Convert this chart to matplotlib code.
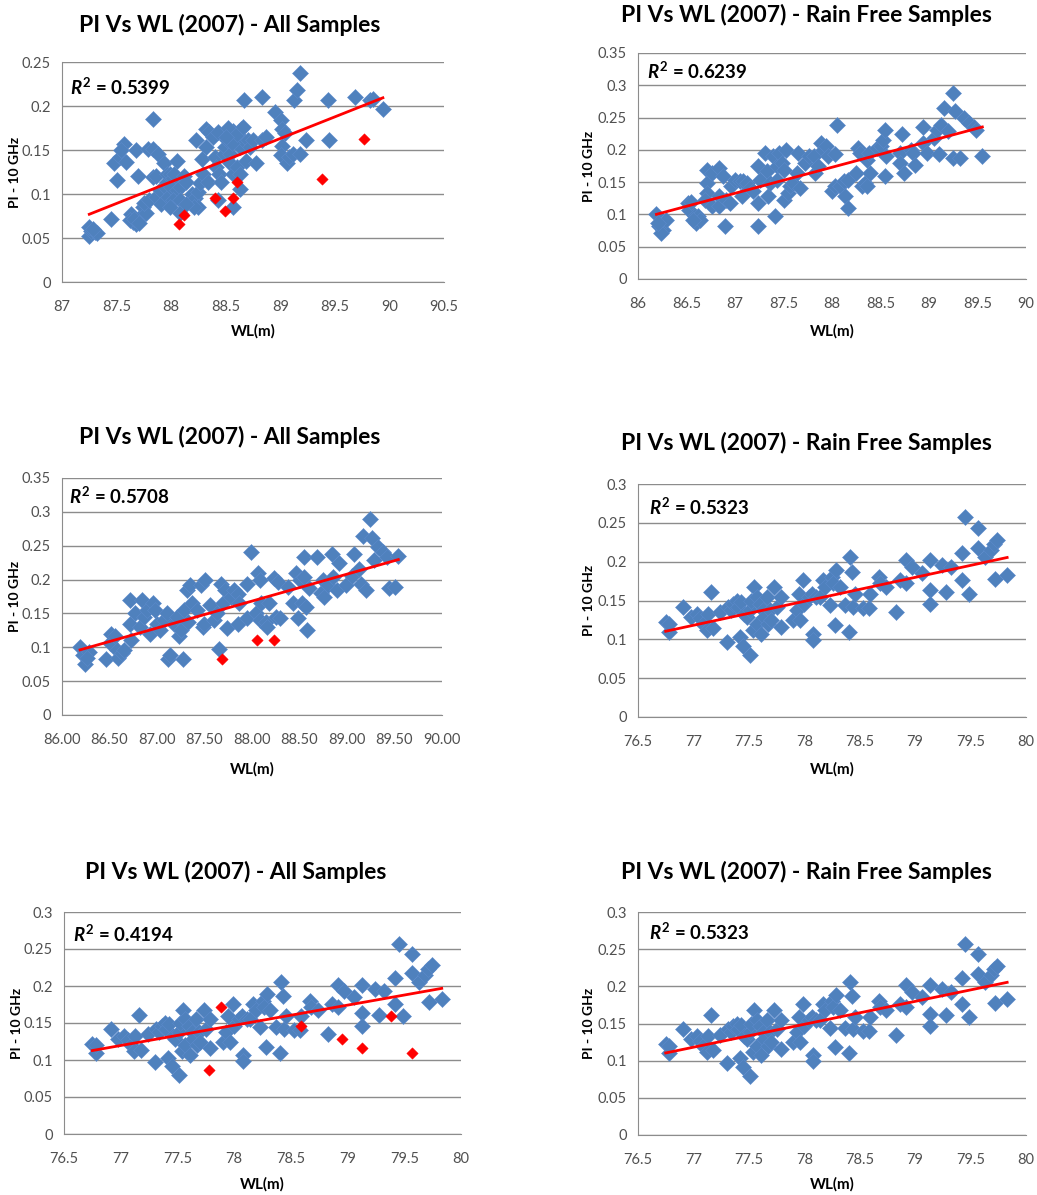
import numpy as np
import matplotlib
matplotlib.use("Agg")
import matplotlib.pyplot as plt

plt.rcParams['font.family'] = ['Lato', 'DejaVu Sans']
plt.rcParams['mathtext.fontset'] = 'custom'
plt.rcParams['mathtext.rm'] = 'Lato:bold'
plt.rcParams['mathtext.it'] = 'Lato:bold:italic'

# ---- panel 1: all samples, WL 87-90.5 ----
p1_wl = [87.25, 87.27, 87.30, 87.25, 87.32, 87.28, 87.45, 87.50, 87.48, 87.53, 87.57, 87.54, 87.59,
         87.68, 87.70, 87.63, 87.65, 87.68, 87.70, 87.72, 87.74, 87.77, 87.75, 87.83, 87.79, 87.83,
         87.88, 87.83, 87.86, 87.80, 87.86, 87.90, 87.94, 87.91, 87.97, 87.96, 87.93, 87.96, 87.99,
         88.02, 88.05, 88.03, 88.00, 88.05, 88.08, 88.02, 88.08, 87.99, 88.12, 88.14, 88.19, 88.22,
         88.25, 88.26, 88.25, 88.21, 88.08, 88.14, 88.23, 88.28, 88.29, 88.34, 88.32, 88.32, 88.35,
         88.38, 88.43, 88.40, 88.41, 88.44, 88.43, 88.46, 88.48, 88.49, 88.51, 88.54, 88.57, 88.58,
         88.54, 88.54, 88.57, 88.60, 88.61, 88.64, 88.63, 88.66, 88.57, 88.63, 88.63, 88.69, 88.70,
         88.72, 88.75, 88.67, 88.78, 88.83, 88.83, 88.87, 88.95, 89.01, 89.02, 89.04, 89.02, 89.01,
         89.06, 89.08, 89.12, 89.13, 89.15, 89.18, 89.18, 89.24, 89.44, 89.45, 89.68, 89.82, 89.85,
         89.94, 88.52, 88.56, 88.60, 88.66, 88.50, 87.62, 87.66, 87.71]
p1_pi = [0.052, 0.058, 0.057, 0.063, 0.056, 0.060, 0.072, 0.116, 0.135, 0.142, 0.157, 0.150, 0.136,
         0.150, 0.121, 0.077, 0.068, 0.066, 0.070, 0.075, 0.085, 0.078, 0.090, 0.185, 0.151, 0.151,
         0.146, 0.119, 0.121, 0.093, 0.097, 0.104, 0.108, 0.089, 0.097, 0.114, 0.135, 0.123, 0.123,
         0.118, 0.138, 0.123, 0.108, 0.104, 0.108, 0.093, 0.093, 0.085, 0.121, 0.114, 0.100, 0.095,
         0.102, 0.112, 0.085, 0.085, 0.078, 0.089, 0.161, 0.140, 0.123, 0.114, 0.153, 0.174, 0.170,
         0.165, 0.170, 0.142, 0.131, 0.123, 0.093, 0.114, 0.146, 0.153, 0.161, 0.169, 0.172, 0.165,
         0.146, 0.135, 0.123, 0.131, 0.161, 0.174, 0.153, 0.161, 0.085, 0.123, 0.106, 0.138, 0.161,
         0.153, 0.161, 0.207, 0.135, 0.210, 0.161, 0.165, 0.193, 0.184, 0.174, 0.169, 0.155, 0.144,
         0.135, 0.142, 0.146, 0.207, 0.218, 0.237, 0.146, 0.161, 0.207, 0.161, 0.210, 0.207, 0.208,
         0.197, 0.175, 0.158, 0.168, 0.176, 0.165, 0.070, 0.072, 0.067]
p1_red_wl = [88.07, 88.12, 88.40, 88.49, 88.57, 88.60, 89.38, 89.77]
p1_red_pi = [0.066, 0.076, 0.095, 0.081, 0.095, 0.114, 0.117, 0.162]

# ---- panel 2: rain free samples, WL 86-90 ----
p2_wl = [86.19, 86.22, 86.26, 86.29, 86.24, 86.21, 86.52, 86.53, 86.55, 86.59, 86.60, 86.62, 86.64,
         86.57, 86.71, 86.71, 86.71, 86.69, 86.76, 86.76, 86.83, 86.84, 86.83, 86.88, 86.90, 86.91,
         86.95, 86.96, 87.00, 87.05, 87.07, 87.08, 87.12, 87.15, 87.19, 87.24, 87.24, 87.24, 87.26,
         87.31, 87.33, 87.34, 87.36, 87.39, 87.41, 87.43, 87.43, 87.45, 87.48, 87.50, 87.51, 87.53,
         87.55, 87.57, 87.60, 87.64, 87.65, 87.67, 87.72, 87.76, 87.81, 87.82, 87.86, 87.89, 87.91,
         87.94, 87.96, 88.00, 88.03, 88.05, 88.03, 88.08, 88.12, 88.13, 88.17, 88.17, 88.25, 88.27,
         88.29, 88.31, 88.34, 88.36, 88.36, 88.38, 88.39, 88.46, 88.51, 88.53, 88.55, 88.55, 88.56,
         88.72, 88.70, 88.70, 88.74, 88.81, 88.84, 88.86, 88.94, 88.94, 88.98, 89.05, 89.08, 89.10,
         89.12, 89.15, 89.20, 89.25, 89.25, 89.27, 89.32, 89.36, 89.41, 89.46, 89.48, 89.55]
p2_pi = [0.100, 0.082, 0.076, 0.092, 0.071, 0.087, 0.118, 0.107, 0.120, 0.097, 0.087, 0.097, 0.092,
         0.092, 0.169, 0.149, 0.133, 0.123, 0.164, 0.113, 0.172, 0.128, 0.113, 0.159, 0.082, 0.123,
         0.118, 0.144, 0.154, 0.151, 0.128, 0.151, 0.149, 0.141, 0.136, 0.175, 0.117, 0.082, 0.154,
         0.195, 0.167, 0.128, 0.149, 0.190, 0.097, 0.175, 0.154, 0.195, 0.180, 0.123, 0.169, 0.200,
         0.133, 0.144, 0.149, 0.164, 0.195, 0.141, 0.180, 0.190, 0.190, 0.164, 0.175, 0.211, 0.200,
         0.206, 0.190, 0.136, 0.193, 0.239, 0.144, 0.144, 0.151, 0.128, 0.110, 0.154, 0.164, 0.203,
         0.195, 0.144, 0.149, 0.144, 0.185, 0.195, 0.164, 0.203, 0.206, 0.216, 0.231, 0.159, 0.190,
         0.224, 0.195, 0.180, 0.164, 0.200, 0.195, 0.177, 0.236, 0.211, 0.195, 0.218, 0.231, 0.193,
         0.239, 0.265, 0.229, 0.187, 0.288, 0.260, 0.187, 0.249, 0.242, 0.236, 0.231, 0.190]

# ---- panel 3: all samples, WL 86-90 ----
p3_wl = [86.19, 86.22, 86.24, 86.28, 86.26, 86.46, 86.50, 86.52, 86.56, 86.58, 86.59, 86.63, 86.65,
         86.72, 86.72, 86.73, 86.77, 86.82, 86.84, 86.86, 86.89, 86.93, 86.96, 86.98, 87.00, 87.03,
         87.07, 87.10, 87.12, 87.14, 87.18, 87.21, 87.23, 87.25, 87.27, 87.28, 87.32, 87.33, 87.35,
         87.37, 87.42, 87.46, 87.48, 87.49, 87.51, 87.56, 87.60, 87.63, 87.65, 87.67, 87.69, 87.72,
         87.74, 87.78, 87.81, 87.85, 87.85, 87.86, 87.95, 87.95, 87.99, 88.04, 88.06, 88.08, 88.08,
         88.09, 88.15, 88.16, 88.18, 88.23, 88.27, 88.25, 88.29, 88.38, 88.43, 88.46, 88.48, 88.50,
         88.53, 88.55, 88.55, 88.57, 88.58, 88.60, 88.68, 88.73, 88.75, 88.76, 88.80, 88.84, 88.85,
         88.89, 88.92, 88.99, 89.05, 89.07, 89.13, 89.15, 89.17, 89.20, 89.24, 89.26, 89.28, 89.33,
         89.38, 89.42, 89.44, 89.51, 89.54]
p3_pi = [0.100, 0.088, 0.076, 0.093, 0.084, 0.082, 0.106, 0.120, 0.116, 0.096, 0.084, 0.091, 0.096,
         0.135, 0.170, 0.111, 0.150, 0.130, 0.170, 0.145, 0.155, 0.120, 0.165, 0.155, 0.135, 0.125,
         0.140, 0.150, 0.082, 0.088, 0.135, 0.145, 0.116, 0.125, 0.082, 0.155, 0.184, 0.138, 0.192,
         0.165, 0.155, 0.192, 0.130, 0.135, 0.199, 0.162, 0.140, 0.150, 0.098, 0.194, 0.165, 0.184,
         0.128, 0.175, 0.184, 0.179, 0.135, 0.165, 0.194, 0.143, 0.241, 0.150, 0.209, 0.199, 0.140,
         0.165, 0.138, 0.130, 0.165, 0.202, 0.197, 0.145, 0.143, 0.189, 0.165, 0.209, 0.143, 0.199,
         0.165, 0.234, 0.204, 0.160, 0.126, 0.187, 0.234, 0.180, 0.199, 0.175, 0.192, 0.238, 0.204,
         0.184, 0.224, 0.192, 0.206, 0.238, 0.216, 0.194, 0.265, 0.184, 0.290, 0.261, 0.229, 0.248,
         0.241, 0.234, 0.187, 0.189, 0.235]
p3_red_wl = [87.68, 88.05, 88.23]
p3_red_pi = [0.082, 0.111, 0.111]

# ---- panels 4-6: WL 76.5-80 (rain free set, shared) ----
rf_wl = [76.75, 76.78, 76.78, 76.91, 76.98, 77.03, 77.06, 77.09, 77.12, 77.13, 77.16, 77.18, 77.24,
         77.30, 77.31, 77.34, 77.36, 77.39, 77.40, 77.42, 77.43, 77.45, 77.46, 77.48, 77.51, 77.51,
         77.52, 77.54, 77.55, 77.57, 77.57, 77.60, 77.61, 77.63, 77.64, 77.66, 77.67, 77.69, 77.70,
         77.73, 77.75, 77.79, 77.79, 77.90, 77.93, 77.95, 77.96, 77.99, 78.00, 78.04, 78.07, 78.08,
         78.08, 78.11, 78.14, 78.17, 78.19, 78.23, 78.25, 78.26, 78.28, 78.29, 78.32, 78.37, 78.40,
         78.41, 78.43, 78.44, 78.46, 78.53, 78.58, 78.59, 78.67, 78.68, 78.74, 78.83, 78.86, 78.92,
         78.92, 78.97, 79.06, 79.13, 79.13, 79.13, 79.24, 79.28, 79.32, 79.42, 79.42, 79.45, 79.49,
         79.57, 79.57, 79.63, 79.68, 79.71, 79.74, 79.72, 79.83]
rf_pi = [0.122, 0.110, 0.120, 0.142, 0.129, 0.133, 0.127, 0.120, 0.112, 0.133, 0.161, 0.114, 0.135,
         0.097, 0.142, 0.138, 0.146, 0.150, 0.142, 0.103, 0.148, 0.092, 0.133, 0.129, 0.080, 0.138,
         0.150, 0.112, 0.168, 0.155, 0.120, 0.146, 0.107, 0.138, 0.129, 0.155, 0.120, 0.138, 0.125,
         0.168, 0.142, 0.155, 0.116, 0.125, 0.138, 0.159, 0.125, 0.176, 0.146, 0.155, 0.159, 0.107,
         0.099, 0.155, 0.155, 0.176, 0.168, 0.144, 0.180, 0.172, 0.118, 0.189, 0.168, 0.144, 0.110,
         0.206, 0.187, 0.142, 0.159, 0.140, 0.140, 0.159, 0.180, 0.172, 0.168, 0.135, 0.176, 0.202,
         0.172, 0.193, 0.185, 0.202, 0.163, 0.146, 0.196, 0.161, 0.193, 0.211, 0.176, 0.257, 0.159,
         0.243, 0.217, 0.206, 0.215, 0.223, 0.228, 0.178, 0.183]
p5_red_wl = [77.78, 77.88, 78.59, 78.95, 79.13, 79.38, 79.57]
p5_red_pi = [0.086, 0.172, 0.146, 0.128, 0.116, 0.159, 0.110]

titles = ["PI Vs WL (2007) - All Samples", "PI Vs WL (2007) - Rain Free Samples"]
r2_labels = ["0.5399", "0.6239", "0.5708", "0.5323", "0.4194", "0.5323"]

BLUE = "#4F81BD"
RED = "#FF0000"
W, H = 1037, 1195

fig = plt.figure(figsize=(W / 100, H / 100), dpi=100)


def px_axes(l, t, r, b):
    return fig.add_axes([l / W, 1 - b / H, (r - l) / W, (b - t) / H])


panels = [
    dict(box=(62, 62, 444, 282), xr=(87, 90.5), ymax=0.25, title=(230, 25, 0), xl=(253, 331), ylx=15,
         r2=(0.02, 0.886), fmt="{:g}", blue=(p1_wl, p1_pi), red=(p1_red_wl, p1_red_pi)),
    dict(box=(638, 53, 1026, 279), xr=(86, 90), ymax=0.35, title=(806, 15, 1), xl=(832, 331), ylx=589,
         r2=(0.023, 0.92), fmt="{:g}", blue=(p2_wl, p2_pi), red=None),
    dict(box=(62, 478, 442, 715), xr=(86, 90), ymax=0.35, title=(230, 437, 0), xl=(252, 769), ylx=15,
         r2=(0.018, 0.924), fmt="{:.2f}", blue=(p3_wl, p3_pi), red=(p3_red_wl, p3_red_pi)),
    dict(box=(638, 484, 1026, 717), xr=(76.5, 80), ymax=0.3, title=(806, 443, 1), xl=(832, 769), ylx=589,
         r2=(0.028, 0.90), fmt="{:g}", blue=(rf_wl, rf_pi), red=None),
    dict(box=(64, 912, 461, 1134), xr=(76.5, 80), ymax=0.3, title=(236, 872, 0), xl=(262, 1184), ylx=17,
         r2=(0.023, 0.90), fmt="{:g}", blue=(rf_wl, rf_pi), red=(p5_red_wl, p5_red_pi)),
    dict(box=(638, 912, 1026, 1135), xr=(76.5, 80), ymax=0.3, title=(806, 872, 1), xl=(832, 1184), ylx=589,
         r2=(0.028, 0.91), fmt="{:g}", blue=(rf_wl, rf_pi), red=None),
]

for i, p in enumerate(panels):
    ax = px_axes(*p["box"])
    bx, by = np.array(p["blue"][0]), np.array(p["blue"][1])
    ax.scatter(bx, by, marker="D", s=66, color=BLUE, edgecolor="#5B8ACB", linewidth=0.4, zorder=3)
    fx, fy = bx, by
    if p["red"] is not None:
        rx, ry = np.array(p["red"][0]), np.array(p["red"][1])
        ax.scatter(rx, ry, marker="D", s=34, color=RED, edgecolor=RED, linewidth=0.3, zorder=4)
        fx, fy = np.concatenate([bx, rx]), np.concatenate([by, ry])
    # linear trend line across the blue samples
    k, c = np.polyfit(fx, fy, 1)
    lx = np.array([bx.min(), bx.max()])
    ax.plot(lx, k * lx + c, color=RED, lw=2, zorder=5)

    ax.set_xlim(*p["xr"])
    ax.set_ylim(0, p["ymax"])
    xt = np.arange(p["xr"][0], p["xr"][1] + 0.01, 0.5)
    ax.set_xticks(xt)
    ax.set_xticklabels([p["fmt"].format(v) for v in xt])
    yt = np.arange(0, p["ymax"] + 0.001, 0.05)
    ax.set_yticks(yt)
    ax.set_yticklabels(["{:g}".format(round(v, 2)) for v in yt])
    ax.grid(axis="y", color="#8C8C8C", lw=1)
    ax.set_axisbelow(True)
    for s in ["top", "right"]:
        ax.spines[s].set_visible(False)
    for s in ["left", "bottom"]:
        ax.spines[s].set_color("#8C8C8C")
    ax.tick_params(length=0, labelsize=10.5, labelcolor="#505050")
    ax.tick_params(axis="x", pad=13)
    ax.tick_params(axis="y", pad=8)

    ax.text(p["r2"][0], p["r2"][1], r"$R^2$ = " + r2_labels[i], transform=ax.transAxes,
            fontsize=13.5, ha="left", va="center", fontweight="bold")

    tx, ty, ti = p["title"]
    fig.text(tx / W, 1 - ty / H, titles[ti], ha="center", va="center", fontsize=16.5, fontweight="bold")
    fig.text(p["xl"][0] / W, 1 - p["xl"][1] / H, "WL(m)", ha="center", va="center",
             fontsize=11, fontweight="bold")
    cy = (p["box"][1] + p["box"][3]) / 2
    fig.text(p["ylx"] / W, 1 - cy / H, "PI - 10 GHz", ha="center", va="center", rotation=90,
             fontsize=10, fontweight="bold")

fig.savefig("out.png", dpi=100)
